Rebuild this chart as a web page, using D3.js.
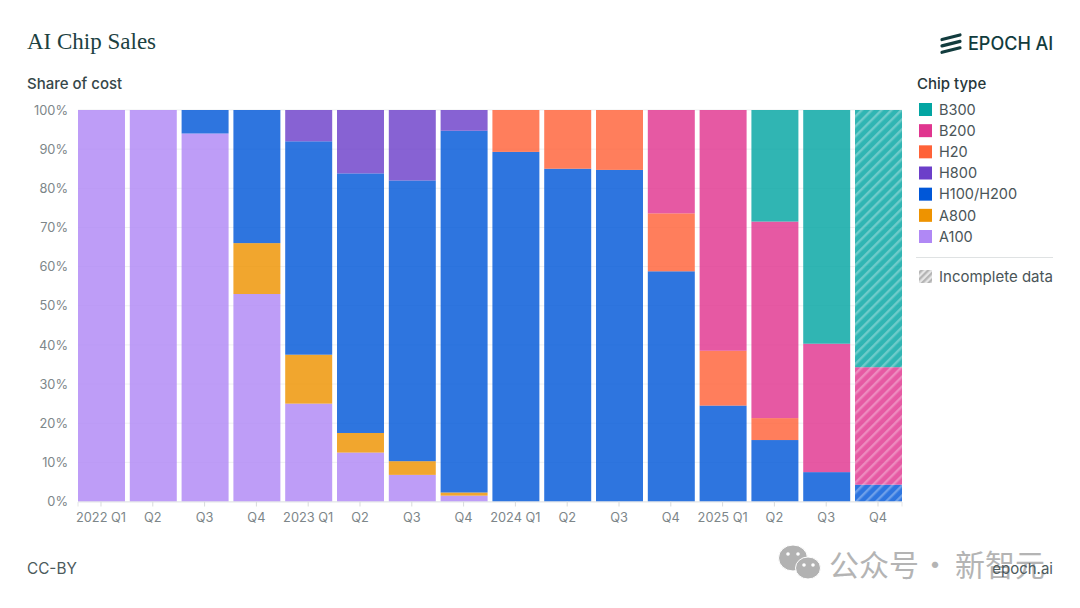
<!DOCTYPE html>
<meta charset="utf-8">
<style>
  html, body { margin: 0; background: #fff; }
  text { font-family: Inter, "Noto Sans", sans-serif; }
</style>

<!-- Load d3.js -->
<script src="https://d3js.org/d3.v7.js"></script>

<div id="my_dataviz"></div>

<script>
    // quarters along the x axis
    var quarters = ["2022 Q1", "2022 Q2", "2022 Q3", "2022 Q4", "2023 Q1", "2023 Q2", "2023 Q3", "2023 Q4",
        "2024 Q1", "2024 Q2", "2024 Q3", "2024 Q4", "2025 Q1", "2025 Q2", "2025 Q3", "2025 Q4"];
    var quarterLabels = ["2022 Q1", "Q2", "Q3", "Q4", "2023 Q1", "Q2", "Q3", "Q4",
        "2024 Q1", "Q2", "Q3", "Q4", "2025 Q1", "Q2", "Q3", "Q4"];

    // share of cost per quarter
    var a100 = [100, 100, 94, 53, 25, 12.5, 6.8, 1.5, 0, 0, 0, 0, 0, 0, 0, 0];
    var a800 = [0, 0, 0, 13, 12.5, 5, 3.5, 0.8, 0, 0, 0, 0, 0, 0, 0, 0];
    var h100 = [0, 0, 6, 34, 54.5, 66.3, 71.7, 92.4, 89.3, 85, 84.7, 58.8, 24.5, 15.7, 7.5, 4.3];
    var h800 = [0, 0, 0, 0, 8, 16.2, 18, 5.3, 0, 0, 0, 0, 0, 0, 0, 0];
    var h20 = [0, 0, 0, 0, 0, 0, 0, 0, 10.7, 15, 15.3, 14.8, 14, 5.6, 0, 0];
    var b200 = [0, 0, 0, 0, 0, 0, 0, 0, 0, 0, 0, 26.4, 61.5, 50.2, 32.8, 30];
    var b300 = [0, 0, 0, 0, 0, 0, 0, 0, 0, 0, 0, 0, 0, 28.5, 59.7, 65.7];

    var incompleteQuarters = ["2025 Q4"];
    var yTicks = [0, 10, 20, 30, 40, 50, 60, 70, 80, 90, 100];

    // bottom to top stacking order
    var chipNames = ["A100", "A800", "H100/H200", "H800", "H20", "B200", "B300"];
    var chipValues = [a100, a800, h100, h800, h20, b200, b300];
    var chipColors = ["#b088f5", "#ee9300", "#0057d8", "#6c3fc9", "#ff6238", "#e0358f", "#03a5a2"];

    var rows = quarters.map(function (q, i) {
        var row = {quarter: q};
        chipNames.forEach(function (name, j) { row[name] = chipValues[j][i]; });
        return row;
    });

    var svg = d3.select("#my_dataviz")
        .append("svg")
        .attr("width", 1080)
        .attr("height", 608)
        .style("display", "block");

    var defs = svg.append("defs");

    // diagonal stripes for the incomplete quarter
    chipNames.forEach(function (name, j) {
        var p = defs.append("pattern")
            .attr("id", "hatch" + j)
            .attr("patternUnits", "userSpaceOnUse")
            .attr("width", 7)
            .attr("height", 7)
            .attr("patternTransform", "rotate(45)");
        p.append("rect")
            .attr("width", 7)
            .attr("height", 7)
            .attr("fill", chipColors[j])
            .attr("fill-opacity", 0.82);
        p.append("rect")
            .attr("width", 2.4)
            .attr("height", 7)
            .attr("fill", "#fff")
            .attr("fill-opacity", 0.3);
    });

    var greyHatch = defs.append("pattern")
        .attr("id", "hatchGrey")
        .attr("patternUnits", "userSpaceOnUse")
        .attr("width", 4.6)
        .attr("height", 4.6)
        .attr("patternTransform", "rotate(45)");
    greyHatch.append("rect").attr("width", 4.6).attr("height", 4.6).attr("fill", "#e6e6e6");
    greyHatch.append("rect").attr("width", 2.3).attr("height", 4.6).attr("fill", "#b4b4b4");

    // logo and legend text stop at the right edge of the frame
    defs.append("clipPath").attr("id", "frameClip")
        .append("rect").attr("x", 0).attr("y", 0).attr("width", 1053).attr("height", 608);

    var x = d3.scaleBand()
        .domain(quarters)
        .range([78, 902])
        .paddingInner(0.093)
        .paddingOuter(0);

    var y = d3.scaleLinear()
        .domain([0, 100])
        .range([501.5, 110]);

    // grid goes under the translucent bars
    svg.append("g")
        .selectAll("line")
        .data(yTicks)
        .enter()
        .append("line")
        .attr("x1", 78)
        .attr("x2", 902)
        .attr("y1", function (d) { return y(d); })
        .attr("y2", function (d) { return y(d); })
        .attr("stroke", "#eef0f1");

    var series = d3.stack().keys(chipNames)(rows);

    svg.append("g")
        .selectAll("g")
        .data(series)
        .enter()
        .append("g")
        .each(function (s, j) {
            d3.select(this).selectAll("rect")
                .data(s.filter(function (d) { return d[1] - d[0] > 0; }))
                .enter()
                .append("rect")
                .attr("x", function (d) { return x(d.data.quarter); })
                .attr("width", x.bandwidth())
                .attr("y", function (d) { return y(d[1]); })
                .attr("height", function (d) { return y(d[0]) - y(d[1]); })
                .attr("fill", function (d) {
                    return incompleteQuarters.indexOf(d.data.quarter) >= 0 ? "url(#hatch" + j + ")" : chipColors[j];
                })
                .attr("fill-opacity", function (d) {
                    return incompleteQuarters.indexOf(d.data.quarter) >= 0 ? 1 : 0.82;
                });
        });

    // y axis
    var yAxis = svg.append("g")
        .attr("transform", "translate(78,0)")
        .call(d3.axisLeft(y).tickValues(yTicks).tickSize(0).tickPadding(10).tickFormat(function (d) { return d + "%"; }));
    yAxis.select(".domain").remove();
    yAxis.selectAll("text")
        .style("font-family", "Inter, sans-serif")
        .style("font-size", "12.8px")
        .style("fill", "#7d8689");

    // x axis
    var xAxis = svg.append("g")
        .attr("transform", "translate(-0.5,501.5)")
        .call(d3.axisBottom(x).tickSize(5).tickPadding(6).tickFormat(function (d, i) { return quarterLabels[i]; }));
    xAxis.select(".domain").attr("stroke", "#e4e6e7");
    xAxis.selectAll("line").attr("stroke", "#d8dbdc");
    xAxis.selectAll("text")
        .style("font-family", "Inter, sans-serif")
        .style("font-size", "12.8px")
        .style("fill", "#7d8689");

    // titles
    svg.append("text")
        .attr("x", 27)
        .attr("y", 49)
        .style("font-family", "'Liberation Serif', serif")
        .style("font-size", "23px")
        .style("fill", "#1c4141")
        .text("AI Chip Sales");

    svg.append("text")
        .attr("x", 27)
        .attr("y", 89)
        .style("font-size", "15px")
        .style("font-weight", 500)
        .style("fill", "#36474a")
        .text("Share of cost");

    // logo
    var logo = svg.append("g").attr("clip-path", "url(#frameClip)");
    logo.selectAll("line")
        .data([0, 1, 2])
        .enter()
        .append("line")
        .attr("x1", 942)
        .attr("x2", 960)
        .attr("y1", function (d) { return 39.5 + d * 6.4; })
        .attr("y2", function (d) { return 35 + d * 6.4; })
        .attr("stroke", "#123c3e")
        .attr("stroke-width", 3.2)
        .attr("stroke-linecap", "round");
    logo.append("text")
        .attr("x", 968)
        .attr("y", 49.5)
        .style("font-size", "18px")
        .style("font-weight", 500)
        .style("fill", "#123c3e")
        .text("EPOCH AI");

    // legend, top entry first
    var legend = svg.append("g").attr("clip-path", "url(#frameClip)");
    legend.append("text")
        .attr("x", 917)
        .attr("y", 89)
        .style("font-size", "15px")
        .style("font-weight", 500)
        .style("fill", "#26373a")
        .text("Chip type");

    var legendNames = chipNames.slice().reverse();
    var legendColors = chipColors.slice().reverse();
    var legendY = d3.scalePoint().domain(legendNames).range([109.5, 236.5]);

    legend.selectAll("rect.key")
        .data(legendNames)
        .enter()
        .append("rect")
        .attr("class", "key")
        .attr("x", 919)
        .attr("y", function (d) { return legendY(d) - 6.5; })
        .attr("width", 13)
        .attr("height", 13)
        .attr("fill", function (d, i) { return legendColors[i]; });

    legend.selectAll("text.name")
        .data(legendNames)
        .enter()
        .append("text")
        .attr("class", "name")
        .attr("x", 939)
        .attr("y", function (d) { return legendY(d) + 5.3; })
        .style("font-size", "14.5px")
        .style("fill", "#4a5558")
        .text(function (d) { return d; });

    legend.append("line")
        .attr("x1", 916)
        .attr("x2", 1053)
        .attr("y1", 257.5)
        .attr("y2", 257.5)
        .attr("stroke", "#dfe2e3");

    legend.append("rect")
        .attr("x", 919)
        .attr("y", 270)
        .attr("width", 13)
        .attr("height", 13)
        .attr("fill", "url(#hatchGrey)");

    legend.append("text")
        .attr("x", 939)
        .attr("y", 282)
        .style("font-size", "15px")
        .style("fill", "#4a5558")
        .text("Incomplete data");

    // watermark sits under the footer text
    var mark = svg.append("g");
    [[793, 558, 14.5, 13], [808, 568, 12.5, 11]].forEach(function (b) {
        mark.append("ellipse")
            .attr("cx", b[0]).attr("cy", b[1]).attr("rx", b[2]).attr("ry", b[3])
            .attr("fill", "#b2b2b2").attr("stroke", "#fff").attr("stroke-width", 1);
    });
    [[788, 554], [798, 554], [804, 565], [813, 565]].forEach(function (e) {
        mark.append("circle").attr("cx", e[0]).attr("cy", e[1]).attr("r", 1.8).attr("fill", "#fff");
    });
    [[829, "公众号"], [920, "·"], [955, "新智元"]].forEach(function (t) {
        mark.append("text")
            .attr("x", t[0])
            .attr("y", 576)
            .style("font-family", "'Noto Sans CJK SC', sans-serif")
            .style("font-size", "30px")
            .style("fill", "#b4b4b4")
            .text(t[1]);
    });

    // footer
    svg.append("text")
        .attr("x", 27)
        .attr("y", 574)
        .style("font-size", "15.3px")
        .style("fill", "#4c5a5c")
        .text("CC-BY");

    svg.append("text")
        .attr("x", 1053)
        .attr("y", 574)
        .attr("text-anchor", "end")
        .style("font-size", "15px")
        .style("fill", "#4c5a5c")
        .text("epoch.ai");
</script>
